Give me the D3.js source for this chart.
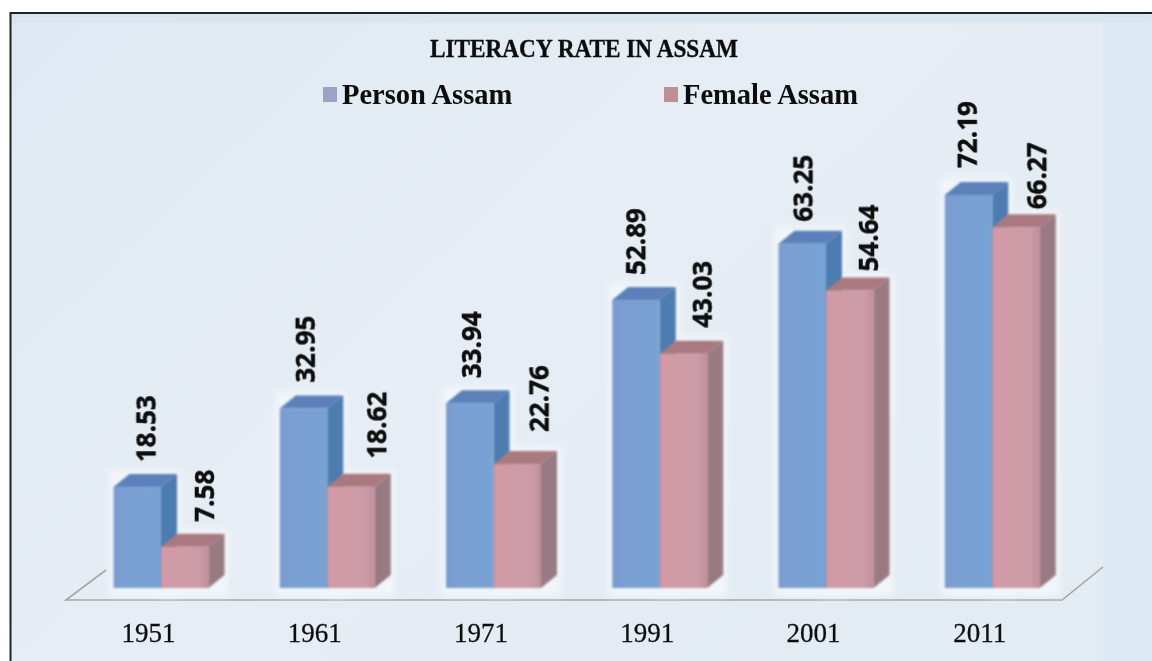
<!DOCTYPE html>
<html><head><meta charset="utf-8">
<script src="https://cdn.jsdelivr.net/npm/d3@7"></script>
<style>html,body{margin:0;padding:0;background:#fff;overflow:hidden}svg{display:block}</style>
</head><body><svg id="c" width="1152" height="661"></svg>
<script>
const years = ["1951","1961","1971","1991","2001","2011"];
const seriesNames = ["Person Assam","Female Assam"];
const person = [18.53,32.95,33.94,52.89,63.25,72.19];
const female = [7.58,18.62,22.76,43.03,54.64,66.27];
const title = "LITERACY RATE IN ASSAM";
// hand-placed label nudges in the source chart: [across, along] from the bar's top-left corner
const personNudge = [[42,25],[35,26],[35,25],[33,25],[34,22],[32,27]];
const femaleNudge = [[53,25],[59,28],[55,32],[52,26],[52,19],[54,18]];

const svg = d3.select("#c");
const defs = svg.append("defs");
function grad(id,stops,x2,y2){
  const g=defs.append("linearGradient").attr("id",id).attr("x1",0).attr("y1",0).attr("x2",x2).attr("y2",y2);
  stops.forEach(s=>g.append("stop").attr("offset",s[0]).attr("stop-color",s[1]));
}
grad("bg",[[0,"#dfe9f3"],[0.5,"#e6edf4"],[1,"#e3ebf3"]],1,0.6);
grad("pF",[[0,"#7c9bd0"],[0.25,"#7a9fd3"],[1,"#79a3d4"]],1,0);
grad("fF",[[0,"#d39aa6"],[0.8,"#cb9ca7"],[1,"#c08f9b"]],1,0);
const mk=(id,s)=>{const f=defs.append("filter").attr("id",id).attr("x","-15%").attr("y","-15%").attr("width","130%").attr("height","130%");
  f.append("feGaussianBlur").attr("stdDeviation",s);};
mk("soft",0.9); mk("txt",0.45); mk("halo",3);

// panel
svg.append("rect").attr("x",10).attr("y",13).attr("width",1142).attr("height",648).attr("fill","url(#bg)");
svg.append("rect").attr("x",1103).attr("y",13).attr("width",49).attr("height",648).attr("fill","#deeaf3");
svg.append("rect").attr("x",10).attr("y",13).attr("width",1142).attr("height",10).attr("fill","#d8e5ef").attr("filter","url(#soft)");
svg.append("path").attr("d","M10.5,661V13H1152").attr("fill","none").attr("stroke","#222").attr("stroke-width",2);

// scales
const x0 = d3.scaleBand().domain(years).range([113.5,1111]);
const x1 = d3.scaleBand().domain(seriesNames).range([0,95]);
const y = d3.scaleLinear().domain([0,72.19]).range([588,195]);
const dx = 16, dy = -13;

const plot = svg.append("g");
const floorY = 600;
plot.append("path").attr("d",`M106,570L66,${floorY}H1062L1103,567`).attr("fill","none").attr("stroke","#a9a5a0").attr("stroke-width",1.6).attr("filter","url(#txt)");

const colors = [
 {front:"url(#pF)",side:"#4d7cb0",top:"#5b80ba"},
 {front:"url(#fF)",side:"#997a82",top:"#a9797f"}
];
const data = years.flatMap((yr,i)=>[
  {yr,s:0,name:seriesNames[0],v:person[i],n:personNudge[i]},
  {yr,s:1,name:seriesNames[1],v:female[i],n:femaleNudge[i]}
]);
const geom = d=>{
  const xa=x0(d.yr)+x1(d.name), w=x1.bandwidth(), yt=y(d.v), yb=y(0);
  return {xa,w,yt,yb};
};
// pale halo round the bars
plot.selectAll("rect.h").data(data).join("rect").attr("class","h")
  .attr("x",d=>geom(d).xa-4).attr("y",d=>geom(d).yt+dy-4)
  .attr("width",d=>geom(d).w+dx+8).attr("height",d=>geom(d).yb-geom(d).yt-dy+12)
  .attr("fill","#f1f6fa").attr("filter","url(#halo)");

const bars = plot.selectAll("g.bar").data(data).join("g").attr("class","bar").attr("filter","url(#soft)");
bars.append("path").attr("fill",d=>colors[d.s].side).attr("d",d=>{const g=geom(d);
  return `M${g.xa+g.w},${g.yt}l${dx},${dy}V${g.yb+dy}l${-dx},${-dy}Z`;});
bars.append("path").attr("fill",d=>colors[d.s].top).attr("d",d=>{const g=geom(d);
  return `M${g.xa},${g.yt}l${dx},${dy}H${g.xa+g.w+dx}l${-dx},${-dy}Z`;});
bars.append("rect").attr("fill",d=>colors[d.s].front)
  .attr("x",d=>geom(d).xa).attr("y",d=>geom(d).yt).attr("width",d=>geom(d).w).attr("height",d=>geom(d).yb-geom(d).yt);

// value labels
plot.selectAll("text.v").data(data).join("text").attr("class","v")
  .attr("transform",d=>{const g=geom(d);return `translate(${g.xa+d.n[0]},${g.yt-d.n[1]}) rotate(-90)`;})
  .attr("text-anchor","start").attr("font-family","'Open Sans',sans-serif").attr("font-weight",700)
  .attr("font-size",26).attr("fill","#0a0a0a").attr("stroke","#0a0a0a").attr("stroke-width",0.4).attr("filter","url(#txt)").text(d=>d.v.toFixed(2));

// axis labels
plot.selectAll("text.yr").data(years).join("text").attr("class","yr")
  .attr("x",d=>x0(d)+35).attr("y",642).attr("text-anchor","middle")
  .attr("font-family","'Liberation Serif',serif").attr("font-size",27).attr("fill","#111").attr("stroke","#111").attr("stroke-width",0.3).attr("filter","url(#txt)").text(d=>d);

// title
svg.append("text").attr("x",584).attr("y",57).attr("text-anchor","middle")
  .attr("textLength",308).attr("lengthAdjust","spacingAndGlyphs")
  .attr("font-family","'Liberation Serif',serif").attr("font-weight",700).attr("font-size",25).attr("fill","#0a0a0a").attr("stroke","#0a0a0a").attr("stroke-width",0.3).attr("filter","url(#txt)").text(title);

// legend
const legendX=[323,664];
const lg=svg.selectAll("g.lg").data(seriesNames).join("g").attr("class","lg")
  .attr("transform",(d,i)=>`translate(${legendX[i]},87)`);
lg.append("rect").attr("width",14).attr("height",15).attr("fill",(d,i)=>i?"#c08e95":"#9aa2c8").attr("filter","url(#txt)");
lg.append("text").attr("x",19).attr("y",16.5).attr("font-family","'Liberation Serif',serif").attr("font-weight",700)
  .attr("font-size",28.5).attr("fill","#0a0a0a").attr("filter","url(#txt)").text(d=>d);
</script></body></html>
